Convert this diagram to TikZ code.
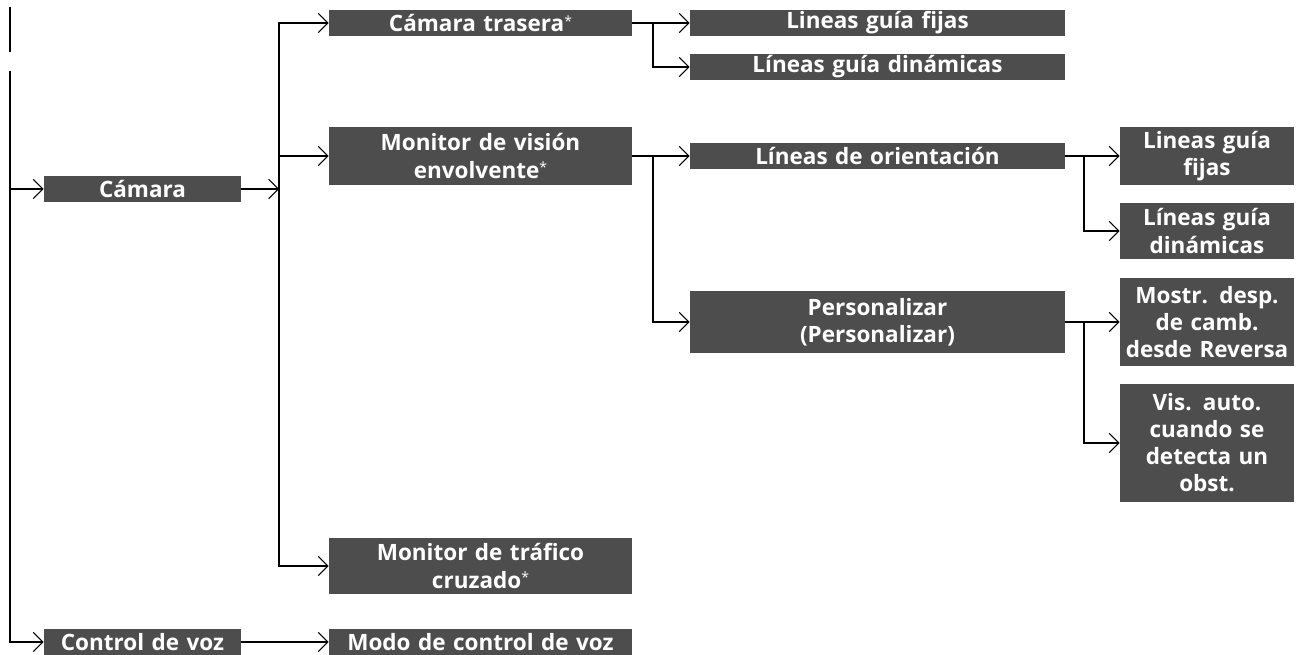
\documentclass[tikz,border=0pt]{standalone}
\usepackage{fontspec}
\setmainfont{Open Sans}
\usetikzlibrary{arrows.meta}
\definecolor{MenuGray}{HTML}{4D4D4D}
\newcommand{\optmark}{\raisebox{3pt}{\mdseries\fontsize{8}{8}\selectfont *}}

\begin{document}
\begin{tikzpicture}[x=0.02cm,y=-0.02cm,
  menu/.style={fill=MenuGray,text=white,inner sep=0pt,align=center,
    font=\fontsize{12.8}{15.4}\selectfont\bfseries},
  colA/.style={menu,text width=3.94cm,minimum width=3.94cm},
  colB/.style={menu,text width=6.06cm,minimum width=6.06cm},
  colC/.style={menu,text width=7.5cm,minimum width=7.5cm},
  colD/.style={menu,text width=3.48cm,minimum width=3.48cm},
  link/.style={line width=1.5pt},
  arr/.style={link,-{Straight Barb[length=5.5pt,width=11pt,line width=0.6pt]}}]
\path[use as bounding box] (0,0) rectangle (1301,655);

% level 1
\node[colA,minimum height=0.52cm] (camara) at (142.5,189) {Cámara};
\node[colA,minimum height=0.52cm] (voz) at (142.5,642) {Control de voz};

% level 2
\node[colB,minimum height=0.52cm] (trasera) at (480.5,23) {Cámara trasera\optmark};
\node[colB,minimum height=1.16cm] (vision) at (480.5,156) {Monitor de visión\\envolvente\optmark};
\node[colB,minimum height=1.12cm] (trafico) at (480.5,566) {Monitor de tráfico\\cruzado\optmark};
\node[colB,minimum height=0.52cm] (modo) at (480.5,642) {Modo de control de voz};

% level 3
\node[colC,minimum height=0.52cm] (fijas) at (877.5,23) {Lineas guía fijas};
\node[colC,minimum height=0.52cm] (dinamicas) at (877.5,67) {Líneas guía dinámicas};
\node[colC,minimum height=0.52cm] (orient) at (877.5,156) {Líneas de orientación};
\node[colC,minimum height=1.24cm] (perso) at (877.5,322) {Personalizar\\(Personalizar)};

% level 4
\node[colD,minimum height=1.16cm] (ofijas) at (1207,156) {Lineas guía\\fijas};
\node[colD,minimum height=1.14cm] (odinamicas) at (1207,231) {Líneas guía\\dinámicas};
\node[colD,minimum height=1.76cm] (mostrar) at (1207,322) {Mostr. desp.\\de camb.\\desde Reversa};
\node[colD,minimum height=2.38cm] (visauto) at (1207,443) {Vis. auto.\\cuando se\\detecta un\\obst.};

% junctions
\coordinate (ja) at (279,189);
\coordinate (jb) at (653,23);
\coordinate (jc) at (653,156);
\coordinate (jd) at (1084,156);
\coordinate (je) at (1084,322);

% connectors
\draw[link] (10,7) -- (10,52);
\draw[arr] (10,71) |- (voz.west);
\draw[arr] (10,189) -- (camara.west);
\draw[arr] (camara.east) -- (ja);
\draw[arr] (ja) |- (trasera.west);
\draw[arr] (ja) |- (trafico.west);
\draw[arr] (ja |- vision.west) -- (vision.west);
\draw[arr] (voz.east) -- (modo.west);
\draw[arr] (trasera.east) -- (fijas.west);
\draw[arr] (jb) |- (dinamicas.west);
\draw[arr] (vision.east) -- (orient.west);
\draw[arr] (jc) |- (perso.west);
\draw[arr] (orient.east) -- (ofijas.west);
\draw[arr] (jd) |- (odinamicas.west);
\draw[arr] (perso.east) -- (mostrar.west);
\draw[arr] (je) |- (visauto.west);
\end{tikzpicture}
\end{document}
